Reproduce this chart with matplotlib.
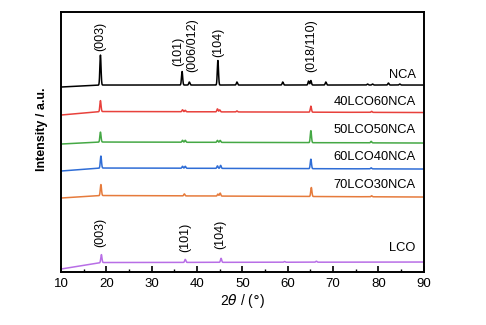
import numpy as np
import matplotlib.pyplot as plt
from matplotlib.ticker import MultipleLocator

plt.rcParams['font.family'] = ['Liberation Sans', 'DejaVu Sans']

# sample names, stacking order from top to bottom
names = ['NCA', '40LCO60NCA', '50LCO50NCA', '60LCO40NCA', '70LCO30NCA', 'LCO']
colors = ['#000000', '#e8413c', '#45a845', '#2f6dd6', '#e67b3c', '#b86ee6']

# baseline knots (2theta, level) for each pattern
base_x = [10, 19, 90]
base_nca = [185, 187, 187]
base_40 = [157, 160.5, 159.5]
base_50 = [128, 130, 129]
base_60 = [101, 104, 103]
base_70 = [74, 76.5, 75]
base_lco = [3, 9.5, 10]

# peak positions (2theta) and heights for each pattern
pk_nca = [18.7, 36.7, 38.3, 44.6, 48.8, 58.9, 64.6, 65.1, 68.4, 77.6, 78.7, 82.2, 84.7]
ht_nca = [30, 13.5, 3, 24.5, 3, 3, 4, 4.5, 3, 1, 1, 2, 1]
pk_40 = [18.7, 36.8, 37.4, 44.5, 45.0, 48.8, 65.1, 78.5]
ht_40 = [11, 2, 1.5, 3, 2, 1, 6, 1]
pk_50 = [18.7, 36.8, 37.4, 44.5, 45.1, 65.1, 78.4]
ht_50 = [10, 2, 2, 2, 2, 12, 1.5]
pk_60 = [18.8, 36.8, 37.4, 44.5, 45.2, 65.1, 78.4]
ht_60 = [12, 2, 2, 2.5, 3, 9.5, 1]
pk_70 = [18.8, 37.2, 44.6, 45.1, 65.2, 78.5]
ht_70 = [11, 2, 2, 3, 9, 1]
pk_lco = [18.9, 37.4, 45.3, 59.3, 66.3]
ht_lco = [8, 3, 4, 0.7, 1]

bases = [base_nca, base_40, base_50, base_60, base_70, base_lco]
peaks = [(pk_nca, ht_nca), (pk_40, ht_40), (pk_50, ht_50),
         (pk_60, ht_60), (pk_70, ht_70), (pk_lco, ht_lco)]

# reflection labels: (text, x, y of label bottom)
nca_hkl = ['(003)', '(101)', '(006/012)', '(104)', '(018/110)']
nca_hkl_x = [18.7, 35.9, 38.9, 44.6, 65.2]
nca_hkl_y = [221, 206, 200, 215, 200]
lco_hkl = ['(003)', '(101)', '(104)']
lco_hkl_x = [18.7, 37.4, 45.1]
lco_hkl_y = [25, 20, 23]

tth = np.arange(10, 90.01, 0.02)
w = 0.13

fig = plt.figure(figsize=(4.86, 3.25), dpi=100)
ax = fig.add_axes([0.1255, 0.163, 0.7465, 0.8])

for i in range(len(names)):
    y = np.interp(tth, base_x, bases[i])
    for p, h in zip(peaks[i][0], peaks[i][1]):
        y = y + h * np.exp(-0.5 * ((tth - p) / w) ** 2)
    ax.plot(tth, y, color=colors[i], lw=1.1)

label_y = [197, 170, 142, 115, 87, 24]
for i in range(len(names)):
    ax.text(88.2, label_y[i], names[i], ha='right', va='center', fontsize=9.3)

for t, x, y in zip(nca_hkl, nca_hkl_x, nca_hkl_y):
    ax.text(x, y, t, rotation=90, ha='center', va='bottom', fontsize=9)
for t, x, y in zip(lco_hkl, lco_hkl_x, lco_hkl_y):
    ax.text(x, y, t, rotation=90, ha='center', va='bottom', fontsize=9)

ax.set_xlim(10, 90)
ax.set_ylim(0, 260)
ax.set_yticks([])
ax.xaxis.set_major_locator(MultipleLocator(10))
ax.xaxis.set_minor_locator(MultipleLocator(5))
ax.tick_params(axis='x', which='major', direction='in', length=4, width=1.2,
               labelsize=9.5, pad=4)
ax.tick_params(axis='x', which='minor', direction='in', length=2.5, width=1.0)
for s in ax.spines.values():
    s.set_linewidth(1.4)

ax.set_xlabel(r'2$\theta$ / ($\degree$)', fontsize=10, labelpad=2)
ax.set_ylabel('Intensity / a.u.', fontsize=9, fontweight='bold')
ax.yaxis.set_label_coords(-0.035, 0.55)

fig.savefig('out.png', dpi=100)
